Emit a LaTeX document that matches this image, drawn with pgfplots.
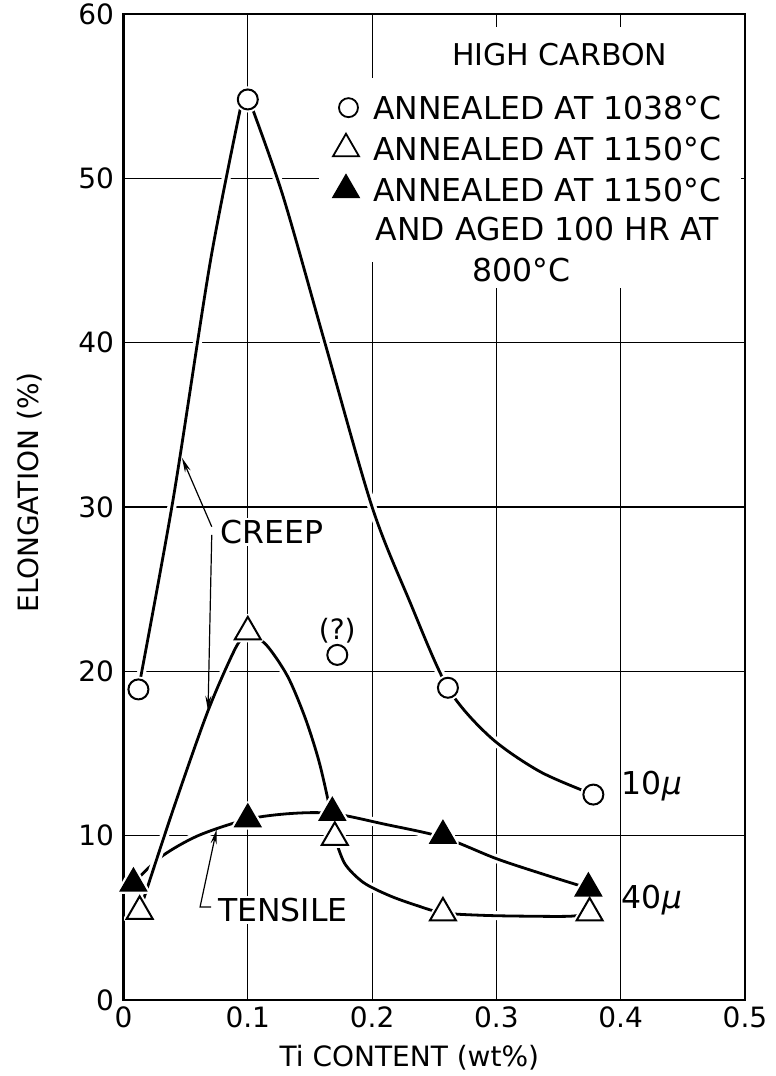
\documentclass[border=0pt]{standalone}
\usepackage{fontspec}
\setmainfont{DejaVu Sans}
\usepackage{pgfplots}
\pgfplotsset{compat=1.18}
\usetikzlibrary{arrows.meta}
\newcommand{\legfont}{\fontsize{31.5bp}{34bp}\selectfont}
\newcommand{\hcfont}{\fontsize{30bp}{34bp}\selectfont}
\newcommand{\tickfont}{\fontsize{28bp}{30bp}\selectfont}
\pgfplotsset{
  halo/.style={white, line width=9bp, smooth, no marks, line cap=round},
  curve/.style={black, line width=2.8bp, smooth, no marks, line cap=round},
}
\begin{document}
\begin{tikzpicture}
\useasboundingbox (-123.5bp,-76bp) rectangle (652.5bp,1000bp);
\begin{axis}[
  at={(0,0)}, anchor=south west,
  scale only axis, width=621.5bp, height=986bp,
  xmin=0, xmax=0.5, ymin=0, ymax=60,
  xtick={0,0.1,0.2,0.3,0.4,0.5}, xticklabels={0,0.1,0.2,0.3,0.4,0.5},
  ytick={0,10,20,30,40,50,60}, yticklabels={0,10,20,30,40,50,60},
  grid=major, major grid style={black, line width=1.1bp},
  major tick length=0pt,
  axis line style={line width=2.8bp},
  ticklabel style={font=\tickfont},
  xticklabel style={yshift=-3bp},
  yticklabel style={xshift=-6bp},
  xlabel={Ti CONTENT (wt\%)}, ylabel={ELONGATION (\%)},
  label style={font=\tickfont},
  xlabel style={at={(axis description cs:0.46,-0.0588)}, anchor=center},
  ylabel style={at={(axis description cs:-0.1504,0.515)}, anchor=center},
  clip=false,
]
% masks behind the key
\fill[white] (axis cs:0.157,44.9) rectangle (axis cs:0.497,56.1);
\fill[white] (axis cs:0.25,43.3) rectangle (axis cs:0.497,59.2);

% tensile curve (aged, filled triangles)
\addplot[halo] coordinates {(0.008,7.1) (0.03,8.7) (0.06,10.0) (0.1,11.0) (0.135,11.35) (0.168,11.35) (0.21,10.7) (0.257,9.9) (0.3,8.6) (0.34,7.6) (0.374,6.8)};
\addplot[curve] coordinates {(0.008,7.1) (0.03,8.7) (0.06,10.0) (0.1,11.0) (0.135,11.35) (0.168,11.35) (0.21,10.7) (0.257,9.9) (0.3,8.6) (0.34,7.6) (0.374,6.8)};

% creep, annealed at 1150 (open triangles)
\addplot[halo] coordinates {(0.013,5.4) (0.04,11.6) (0.068,17.6) (0.09,21.4) (0.1,22.4)};
\addplot[curve] coordinates {(0.013,5.4) (0.04,11.6) (0.068,17.6) (0.09,21.4) (0.1,22.4)};
\addplot[halo] coordinates {(0.1,22.4) (0.115,21.6) (0.132,19.7) (0.146,17.2) (0.157,14.6) (0.165,12.0) (0.17,9.9)};
\addplot[curve] coordinates {(0.1,22.4) (0.115,21.6) (0.132,19.7) (0.146,17.2) (0.157,14.6) (0.165,12.0) (0.17,9.9)};
\addplot[halo] coordinates {(0.17,9.9) (0.178,8.3) (0.193,7.15) (0.214,6.35) (0.236,5.75) (0.257,5.3) (0.29,5.15) (0.325,5.1) (0.36,5.1) (0.375,5.3)};
\addplot[curve] coordinates {(0.17,9.9) (0.178,8.3) (0.193,7.15) (0.214,6.35) (0.236,5.75) (0.257,5.3) (0.29,5.15) (0.325,5.1) (0.36,5.1) (0.375,5.3)};

% creep, annealed at 1038 (circles)
\addplot[halo] coordinates {(0.012,18.9) (0.04,30.5) (0.07,45) (0.095,54.6)};
\addplot[curve] coordinates {(0.012,18.9) (0.04,30.5) (0.07,45) (0.095,54.6)};
\addplot[halo] coordinates {(0.1,55) (0.128,49) (0.162,40) (0.2,30) (0.23,24.3) (0.261,19.0) (0.295,16.0) (0.335,13.9) (0.378,12.5)};
\addplot[curve] coordinates {(0.1,55) (0.128,49) (0.162,40) (0.2,30) (0.23,24.3) (0.261,19.0) (0.295,16.0) (0.335,13.9) (0.378,12.5)};

% marker halos
\addplot[only marks, mark=*, mark size=10bp, mark options={draw=white, fill=white, line width=6bp}] coordinates {(0.012,18.9) (0.1,54.8) (0.172,21.0) (0.261,19.0) (0.378,12.5)};
\addplot[only marks, mark=triangle*, mark size=15bp, mark options={draw=white, fill=white, line width=6bp, line join=round}] coordinates {(0.013,5.4) (0.1,22.4) (0.17,9.9) (0.257,5.3) (0.375,5.3) (0.008,7.1) (0.1,11.0) (0.168,11.4) (0.257,10.0) (0.374,6.8)};

% markers
\addplot[only marks, mark=*, mark size=10bp, mark options={draw=black, fill=white, line width=2bp}] coordinates {(0.012,18.9) (0.1,54.8) (0.172,21.0) (0.261,19.0) (0.378,12.5)};
\addplot[only marks, mark=triangle*, mark size=15bp, mark options={draw=black, fill=white, line width=2bp}] coordinates {(0.013,5.4) (0.1,22.4) (0.17,9.9) (0.257,5.3) (0.375,5.3)};
\addplot[only marks, mark=triangle*, mark size=15bp, mark options={draw=black, fill=black, line width=1.5bp}] coordinates {(0.008,7.1) (0.1,11.0) (0.168,11.4) (0.257,10.0) (0.374,6.8)};

% key markers
\addplot[only marks, mark=*, mark size=9.5bp, mark options={draw=black, fill=white, line width=1.8bp}] coordinates {(0.181,54.3)};
\addplot[only marks, mark=triangle*, mark size=15bp, mark options={draw=black, fill=white, line width=1.8bp}] coordinates {(0.179,51.8)};
\addplot[only marks, mark=triangle*, mark size=15bp, mark options={draw=black, fill=black, line width=1.5bp}] coordinates {(0.179,49.3)};

% key text
\node[font=\hcfont, anchor=center] at (axis cs:0.351,57.5) {HIGH CARBON};
\node[font=\legfont, anchor=west, inner sep=0pt] at (axis cs:0.2007,54.3) {ANNEALED AT 1038°C};
\node[font=\legfont, anchor=west, inner sep=0pt] at (axis cs:0.2007,51.8) {ANNEALED AT 1150°C};
\node[font=\legfont, anchor=west, inner sep=0pt] at (axis cs:0.2007,49.3) {ANNEALED AT 1150°C};
\node[font=\legfont, anchor=west, inner sep=0pt] at (axis cs:0.2027,46.9) {AND AGED 100 HR AT};
\node[font=\legfont, anchor=center, inner sep=0pt] at (axis cs:0.32,44.4) {800°C};

% annotations
\draw[line width=1.2bp, -{Stealth[length=15bp,width=6bp]}] (axis cs:0.071,28.8) -- (axis cs:0.047,33.0);
\draw[line width=1.2bp, -{Stealth[length=15bp,width=6bp]}] (axis cs:0.071,28.3) -- (axis cs:0.068,17.6);
\node[font=\legfont, anchor=west, fill=white, inner sep=2bp] at (axis cs:0.0762,28.5) {CREEP};
\draw[line width=1.2bp, -{Stealth[length=15bp,width=6bp]}] (axis cs:0.0704,5.66) -- (axis cs:0.0616,5.66) -- (axis cs:0.075,10.4);
\node[font=\legfont, anchor=west, fill=white, inner sep=2bp] at (axis cs:0.0744,5.5) {TENSILE};
\node[font=\tickfont, anchor=center, inner sep=0pt] at (axis cs:0.172,22.5) {(?)};
\node[font=\legfont, anchor=west, fill=white, inner sep=1bp] at (axis cs:0.4,13.0) {10{\itshape μ}};
\node[font=\legfont, anchor=west, fill=white, inner sep=1bp] at (axis cs:0.4,6.1) {40{\itshape μ}};
\end{axis}
\end{tikzpicture}
\end{document}
